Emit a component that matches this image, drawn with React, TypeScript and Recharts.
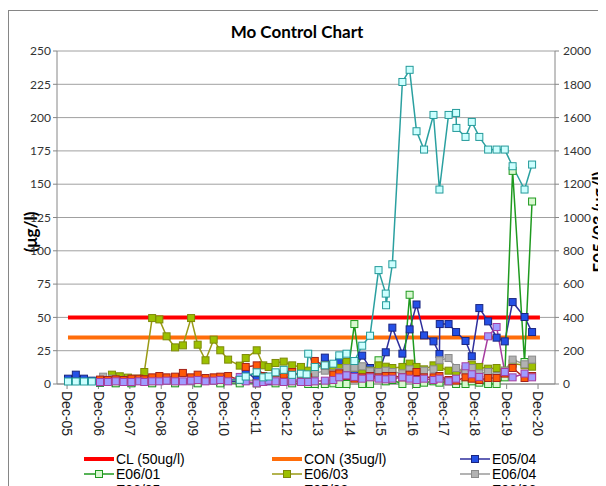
import { CartesianGrid, Line, LineChart, XAxis, YAxis } from 'recharts';

type Pt = [number, number];

// x = decimal year of sample, y = value
const X_TICKS = [
  2005.92, 2006.92, 2007.92, 2008.92, 2009.92, 2010.92, 2011.92, 2012.92,
  2013.92, 2014.92, 2015.92, 2016.92, 2017.92, 2018.92, 2019.92, 2020.92,
];
const X_LABELS = [
  'Dec-05', 'Dec-06', 'Dec-07', 'Dec-08', 'Dec-09', 'Dec-10', 'Dec-11', 'Dec-12',
  'Dec-13', 'Dec-14', 'Dec-15', 'Dec-16', 'Dec-17', 'Dec-18', 'Dec-19', 'Dec-20',
];
const LEFT_TICKS = [0, 25, 50, 75, 100, 125, 150, 175, 200, 225, 250];
const RIGHT_TICKS = [0, 200, 400, 600, 800, 1000, 1200, 1400, 1600, 1800, 2000];

const CL: Pt[] = [[2005.95, 50], [2020.98, 50]];
const CON: Pt[] = [[2005.95, 35], [2020.98, 35]];

const E0504: Pt[] = [
  [2005.95, 4], [2006.2, 7], [2006.46, 4], [2006.71, 2.5], [2006.97, 1], [2007.47, 1],
  [2007.97, 1], [2008.63, 1], [2009.36, 1], [2010.08, 1], [2010.8, 1.5], [2011.42, 2],
  [2011.61, 9.8], [2011.96, 3], [2012.34, 2], [2012.82, 2], [2013.37, 2], [2013.81, 8],
  [2014.13, 19.8], [2014.4, 14], [2014.59, 17], [2014.82, 12], [2015.07, 10], [2015.32, 21.3],
  [2015.57, 12], [2015.84, 8], [2016.07, 23.8], [2016.28, 42.3], [2016.6, 22.8], [2016.83, 41],
  [2017.05, 59.7], [2017.29, 36.5], [2017.59, 32], [2017.78, 22.5], [2017.79, 45], [2018.07, 45],
  [2018.31, 39], [2018.61, 32.3], [2018.81, 20.8], [2019.05, 57], [2019.33, 47], [2019.6, 34.8],
  [2019.86, 32], [2020.11, 61.5], [2020.49, 50.3], [2020.73, 39],
];

const E0601: Pt[] = [
  [2006.97, 1], [2007.47, 0.5], [2007.97, 0.5], [2008.63, 0.5], [2009.36, 0.5], [2010.08, 0.5],
  [2010.8, 0.5], [2011.42, 0.5], [2011.96, 0.5], [2012.56, 0.5], [2013.09, 0.5], [2013.6, 0],
  [2013.81, 0], [2014.13, 0], [2014.4, 0.5], [2014.59, 0], [2014.82, 0], [2015.07, 45],
  [2015.32, 0], [2015.57, 0], [2015.84, 17.8], [2016.07, 2], [2016.28, 3], [2016.6, 0],
  [2016.83, 67], [2017.05, 0], [2017.29, 1], [2017.59, 2], [2017.78, 1], [2018.07, 2],
  [2018.31, 0], [2018.61, 0], [2018.81, 2], [2019.05, 1], [2019.33, 0], [2019.6, 0],
  [2019.86, 5], [2020.11, 160], [2020.49, 16.5], [2020.73, 137],
];

const E0603: Pt[] = [
  [2007.35, 7], [2007.6, 5.8], [2007.86, 4.8], [2008.11, 4], [2008.38, 9], [2008.63, 49.5],
  [2008.86, 48.5], [2009.09, 35.8], [2009.36, 27.5], [2009.61, 29], [2009.87, 49.5], [2010.08, 29.5],
  [2010.33, 17.8], [2010.59, 33.3], [2010.8, 25.3], [2011.05, 18.3], [2011.42, 13.8], [2011.61, 19.5],
  [2011.96, 25.3], [2012.17, 14], [2012.34, 12.8], [2012.56, 15.8], [2012.82, 16.8], [2013.09, 14],
  [2013.37, 12.8], [2013.6, 10], [2013.81, 12], [2014.13, 14], [2014.4, 13], [2014.59, 12],
  [2014.82, 16.5], [2015.07, 12], [2015.32, 8], [2015.57, 10], [2015.84, 14], [2016.07, 13],
  [2016.28, 12], [2016.6, 12.8], [2016.83, 15.3], [2017.05, 12.8], [2017.29, 11], [2017.59, 14],
  [2017.78, 12.8], [2018.07, 10], [2018.31, 9], [2018.61, 11], [2018.81, 14.5], [2019.05, 12.8],
  [2019.33, 11.5], [2019.6, 12], [2019.86, 10], [2020.11, 15.3], [2020.49, 14], [2020.73, 13],
];

const E0604: Pt[] = [
  [2007.07, 5.5], [2007.35, 4], [2007.6, 3], [2007.86, 2], [2008.38, 2], [2009.09, 2.5],
  [2009.87, 2], [2010.59, 2.5], [2011.42, 3], [2012.17, 2.5], [2012.82, 3], [2013.37, 3],
  [2013.6, 5], [2013.81, 8], [2014.13, 10], [2014.4, 8], [2014.59, 9], [2014.82, 12],
  [2015.07, 12.3], [2015.32, 13.3], [2015.57, 9.5], [2015.84, 9], [2016.07, 10], [2016.28, 9],
  [2016.6, 8], [2016.83, 11], [2017.05, 9], [2017.29, 10], [2017.59, 11], [2017.78, 17.8],
  [2018.07, 19.5], [2018.31, 12], [2018.61, 9], [2018.81, 12], [2019.05, 8], [2019.33, 9],
  [2019.6, 6], [2019.86, 10], [2020.11, 18.3], [2020.49, 14.8], [2020.73, 18.3],
];

const E0605: Pt[] = [
  [2006.97, 3.3], [2007.22, 3], [2007.47, 3.5], [2007.72, 3], [2007.97, 4], [2008.22, 4],
  [2008.38, 3.5], [2008.63, 5], [2008.86, 6], [2009.09, 5], [2009.36, 5.5], [2009.61, 8.3],
  [2009.87, 5], [2010.08, 7], [2010.33, 4.5], [2010.59, 5], [2010.8, 5.5], [2011.05, 6],
  [2011.42, 3], [2011.61, 12.8], [2011.96, 14], [2012.17, 6], [2012.34, 5], [2012.56, 8],
  [2012.82, 7], [2013.09, 9], [2013.37, 6], [2013.6, 5], [2013.81, 17.3], [2014.13, 14],
  [2014.4, 7], [2014.59, 8], [2014.82, 6], [2015.07, 4], [2015.32, 5], [2015.57, 6],
  [2015.84, 5], [2016.07, 6], [2016.28, 6], [2016.6, 5], [2016.83, 7], [2017.05, 9],
  [2017.29, 5], [2017.59, 5], [2017.78, 6], [2018.07, 3], [2018.31, 2.5], [2018.61, 5],
  [2018.81, 4], [2019.05, 3], [2019.33, 4.5], [2019.6, 4.5], [2019.86, 7.8], [2020.11, 12],
  [2020.49, 4.5], [2020.73, 6],
];

// secondary axis (0-2000)
const E0503: Pt[] = [
  [2005.95, 15], [2006.2, 15], [2006.46, 15], [2006.71, 15], [2011.42, 25], [2011.61, 45],
  [2011.96, 70], [2012.17, 40], [2012.34, 45], [2012.56, 70], [2012.82, 85], [2013.09, 55],
  [2013.37, 62], [2013.55, 58], [2013.6, 182], [2013.81, 102], [2014.13, 112], [2014.4, 122],
  [2014.59, 172], [2014.82, 182], [2015.07, 138], [2015.32, 230], [2015.57, 290], [2015.84, 684],
  [2016.07, 543], [2016.08, 473], [2016.28, 719], [2016.6, 1814], [2016.83, 1887], [2017.05, 1518],
  [2017.29, 1408], [2017.59, 1616], [2017.78, 1168], [2018.07, 1616], [2018.31, 1628], [2018.32, 1538],
  [2018.61, 1484], [2018.81, 1574], [2019.05, 1484], [2019.33, 1408], [2019.6, 1408], [2019.86, 1408],
  [2020.11, 1308], [2020.49, 1168], [2020.73, 1318],
];

const E0606: Pt[] = [
  [2006.97, 1.5], [2007.22, 1.5], [2007.47, 2], [2007.72, 1.5], [2007.97, 1.5], [2008.22, 2],
  [2008.38, 1.5], [2008.63, 2], [2008.86, 2], [2009.09, 2.5], [2009.36, 2], [2009.61, 2],
  [2009.87, 2.5], [2010.08, 3], [2010.33, 2], [2010.59, 2.5], [2010.8, 3], [2011.05, 2],
  [2011.42, 5.3], [2011.61, 2], [2011.96, 0.5], [2012.17, 1.5], [2012.34, 2.5], [2012.56, 2],
  [2012.82, 1.5], [2013.09, 2], [2013.37, 1.5], [2013.6, 1.5], [2013.81, 2], [2014.13, 2.5],
  [2014.4, 3], [2014.59, 5], [2014.82, 6.5], [2015.07, 5.3], [2015.32, 4], [2015.57, 5],
  [2015.84, 4], [2016.07, 3.5], [2016.28, 4], [2016.6, 5], [2016.83, 4], [2017.05, 3],
  [2017.29, 4], [2017.59, 3], [2017.78, 4], [2018.07, 2], [2018.31, 4], [2018.61, 13.3],
  [2018.81, 7.3], [2019.05, 5.3], [2019.33, 35.8], [2019.6, 42.8], [2019.86, 9],
  [2020.11, 5], [2020.49, 7.8], [2020.73, 5],
];

const toRows = (pts: Pt[]) => pts.map(([t, v]) => ({ t, v }));

interface SeriesDef {
  name: string;
  data: Pt[];
  line: string;
  fill: string;
  stroke: string;
  axis: 'left' | 'right';
}

const SERIES: SeriesDef[] = [
  { name: 'E05/04', data: E0504, line: '#2e2e9c', fill: '#2450e6', stroke: '#1a2580', axis: 'left' },
  { name: 'E06/01', data: E0601, line: '#1f9a1f', fill: '#d8f8d0', stroke: '#1f9a1f', axis: 'left' },
  { name: 'E06/03', data: E0603, line: '#9a9a14', fill: '#9cc000', stroke: '#7d8a08', axis: 'left' },
  { name: 'E06/04', data: E0604, line: '#9a9a9a', fill: '#b2b2b2', stroke: '#8a8a8a', axis: 'left' },
  { name: 'E06/05', data: E0605, line: '#b02a20', fill: '#ff5a08', stroke: '#a5231a', axis: 'left' },
  { name: 'E06/06', data: E0606, line: '#a63ca0', fill: '#a09cff', stroke: '#a63ca0', axis: 'left' },
  { name: 'E05/03', data: E0503, line: '#2aa0a0', fill: '#ccffff', stroke: '#239a9a', axis: 'right' },
];

const LEGEND = ['CL (50ug/l)', 'CON (35ug/l)', 'E05/04', 'E06/01', 'E06/03', 'E06/04', 'E06/05', 'E05/03', 'E06/06'];

const square = (fill: string, stroke: string) => (props: any) => {
  const { cx, cy, index } = props;
  if (cx == null || cy == null) return <g key={index} />;
  return (
    <rect key={index} x={cx - 3.5} y={cy - 3.5} width={7} height={7} fill={fill} stroke={stroke} strokeWidth={1} />
  );
};

function XTick({ x, y, payload }: any) {
  const i = X_TICKS.indexOf(payload.value);
  return (
    <text
      x={x}
      y={y}
      dy="0.35em"
      transform={`rotate(90, ${x}, ${y})`}
      textAnchor="start"
      fontFamily="'Liberation Sans', Arial, sans-serif"
      fontSize={14}
      fill="#222"
    >
      {X_LABELS[i] ?? ''}
    </text>
  );
}

function LegendIcon({ idx }: { idx: number }) {
  if (idx === 0 || idx === 1) {
    return (
      <svg width={30} height={10} style={{ display: 'block' }}>
        <line x1={0} y1={5} x2={30} y2={5} stroke={idx === 0 ? '#ff0000' : '#ff6d0a'} strokeWidth={4} />
      </svg>
    );
  }
  const s = SERIES.find((d) => d.name === LEGEND[idx])!;
  return (
    <svg width={30} height={10} style={{ display: 'block' }}>
      <line x1={0} y1={5} x2={30} y2={5} stroke={s.line} strokeWidth={1.5} />
      <rect x={11.5} y={1.5} width={7} height={7} fill={s.fill} stroke={s.stroke} />
    </svg>
  );
}

const COL_X = [76, 264, 452];
const ROW_Y = [451, 466, 482];

export default function App() {
  const tickFont = { fontFamily: 'Lato, sans-serif', fontSize: 12, fill: '#333' };
  const axisTitle = {
    position: 'absolute' as const, top: 224, transform: 'translate(-50%, -50%) rotate(-90deg)',
    fontFamily: 'Lato, sans-serif', fontWeight: 700, fontSize: 17, whiteSpace: 'nowrap' as const,
  };
  return (
    <div style={{ position: 'relative', width: 598, height: 478, overflow: 'hidden', background: '#fff' }}>
      <div
        style={{
          position: 'absolute', left: 0, top: 2, width: 700, height: 600,
          border: '1px solid #868686', boxSizing: 'border-box',
        }}
      />
      <div
        style={{
          position: 'absolute', left: 0, width: 578, top: 13, textAlign: 'center',
          fontFamily: 'Lato, sans-serif', fontWeight: 700, fontSize: 17, color: '#000',
        }}
      >
        Mo Control Chart
      </div>
      <div style={{ ...axisTitle, left: 22 }}>(μg/l)</div>
      <div style={{ ...axisTitle, left: 590, top: 214 }}>E05/03 (ug/l)</div>
      <div style={{ position: 'absolute', left: 0, top: 0 }}>
        <LineChart width={598} height={478} margin={{ top: 43, right: 0, left: 0, bottom: 0 }}>
          <CartesianGrid yAxisId="left" vertical={false} stroke="#a0a0a0" horizontalValues={LEFT_TICKS} />
          <XAxis
            type="number"
            dataKey="t"
            domain={[2005.6, 2021.46]}
            allowDataOverflow
            ticks={X_TICKS}
            interval={0}
            height={102}
            tick={<XTick />}
            tickSize={5}
            tickMargin={2}
            stroke="#868686"
          />
          <YAxis
            yAxisId="left"
            domain={[0, 250]}
            ticks={LEFT_TICKS}
            interval={0}
            width={49}
            tickSize={4}
            tickMargin={2}
            stroke="#868686"
            tick={tickFont}
          />
          <YAxis
            yAxisId="right"
            orientation="right"
            domain={[0, 2000]}
            ticks={RIGHT_TICKS}
            interval={0}
            width={51}
            tickSize={4}
            tickMargin={4}
            stroke="#868686"
            tick={tickFont}
          />
          <Line yAxisId="left" data={toRows(CL)} dataKey="v" stroke="#ff0000" strokeWidth={4} dot={false} isAnimationActive={false} />
          <Line yAxisId="left" data={toRows(CON)} dataKey="v" stroke="#ff6d0a" strokeWidth={4} dot={false} isAnimationActive={false} />
          {SERIES.map((s) => (
            <Line
              key={s.name}
              yAxisId={s.axis}
              data={toRows(s.data)}
              dataKey="v"
              name={s.name}
              stroke={s.line}
              strokeWidth={1.5}
              dot={square(s.fill, s.stroke)}
              isAnimationActive={false}
            />
          ))}
        </LineChart>
      </div>
      {LEGEND.map((label, i) => (
        <div
          key={label}
          style={{
            position: 'absolute', left: COL_X[i % 3], top: ROW_Y[Math.floor(i / 3)] - 8,
            height: 16, display: 'flex', alignItems: 'center',
            fontFamily: "'Liberation Sans', Arial, sans-serif", fontSize: 14, color: '#000',
          }}
        >
          <LegendIcon idx={i} />
          <span style={{ marginLeft: 2 }}>{label}</span>
        </div>
      ))}
    </div>
  );
}
